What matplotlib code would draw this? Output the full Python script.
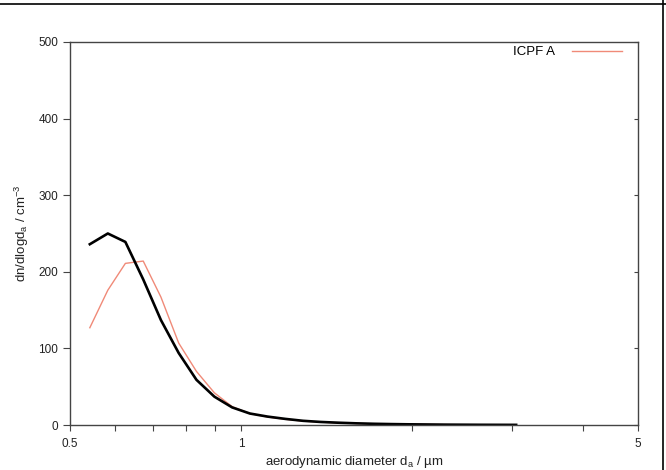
import numpy as np
import matplotlib.pyplot as plt
from matplotlib.lines import Line2D
from matplotlib.ticker import FixedLocator, NullFormatter

plt.rcParams['font.family'] = ['Liberation Sans', 'DejaVu Sans']

# APS channel midpoints (um)
d_a = [0.542, 0.583, 0.626, 0.673, 0.723, 0.777, 0.835, 0.898, 0.965, 1.037,
       1.114, 1.197, 1.286, 1.382, 1.486, 1.596, 1.715, 1.843, 1.981, 2.129,
       2.288, 2.458, 2.642, 2.839, 3.051]
# black reference curve
ref_dn = [236, 250, 239, 190, 137, 94, 59, 37, 23, 15,
          11, 8, 5.5, 4, 3, 2.2, 1.6, 1.2, 0.9, 0.7,
          0.5, 0.4, 0.3, 0.25, 0.2]
# ICPF A
icpf_a = [127, 176, 211, 214, 167, 107, 70, 42, 24, 15,
          10.5, 7.5, 5.2, 3.8, 2.8, 2.1, 1.5, 1.1, 0.85, 0.65,
          0.5, 0.38, 0.3, 0.22, 0.18]

fig = plt.figure(figsize=(6.66, 4.70), dpi=100)
ax = fig.add_axes([0.105, 0.0957, 0.853, 0.815])

ax.plot(d_a, icpf_a, color='#f08a78', lw=1.0, label='ICPF A')
ax.plot(d_a, ref_dn, color='black', lw=1.9)

ax.set_xscale('log')
ax.set_xlim(0.5, 5)
ax.set_ylim(0, 500)
ax.xaxis.set_major_locator(FixedLocator([0.5, 1, 5]))
ax.xaxis.set_major_formatter(plt.FixedFormatter(['0.5', '1', '5']))
ax.xaxis.set_minor_locator(FixedLocator([0.6, 0.7, 0.8, 0.9, 2, 3, 4]))
ax.xaxis.set_minor_formatter(NullFormatter())
ax.set_yticks([0, 100, 200, 300, 400, 500])

ax.tick_params(axis='x', which='both', direction='out', length=4, width=0.8,
               colors='#444444', labelcolor='#222222', labelsize=8.5, pad=5)
ax.tick_params(axis='y', which='both', direction='out', length=5, width=0.8,
               colors='#444444', labelcolor='#222222', labelsize=8.5)
ax.tick_params(axis='y', which='both', right=True)
for t in ax.yaxis.get_major_ticks():
    t.tick2line.set_marker(0)  # tick on right side pointing inward
    t.tick2line.set_markersize(3)
for s in ax.spines.values():
    s.set_color('#444444')
    s.set_linewidth(1.0)

ax.set_xlabel('aerodynamic diameter d$_\\mathregular{a}$ / µm', fontsize=9.5,
              color='#222222', labelpad=3)
ax.set_ylabel('dn/dlogd$_\\mathregular{a}$ / cm$^{\\mathregular{-3}}$', fontsize=9.5,
              color='#222222', labelpad=5)

ax.legend(loc='upper right', bbox_to_anchor=(0.981, 1.003), frameon=False,
          markerfirst=False, fontsize=9.5, handlelength=3.8, handletextpad=1.3,
          borderaxespad=0)

# outer frame lines
fig.add_artist(Line2D([0, 1], [0.992, 0.992], color='black', lw=1.2))
fig.add_artist(Line2D([0.996, 0.996], [0, 1], color='black', lw=1.2))

fig.savefig('out.png', dpi=100)
